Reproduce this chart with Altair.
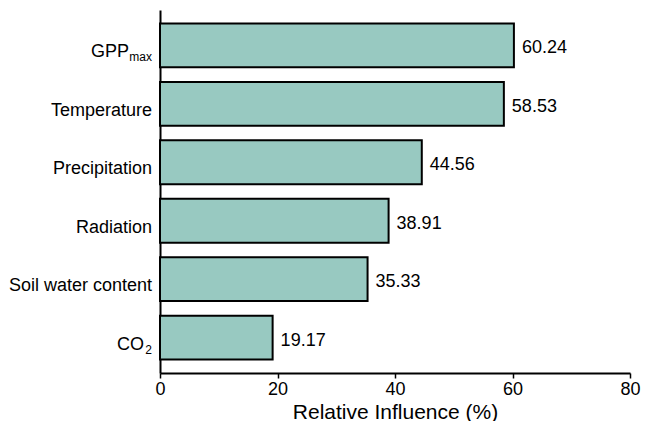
import altair as alt
import pandas as pd

categories = ["GPPmax", "Temperature", "Precipitation", "Radiation", "Soil water content", "CO2"]
main_labels = ["GPP", "Temperature", "Precipitation", "Radiation", "Soil water content", "CO"]
sub_labels = ["max", "", "", "", "", "2"]
values = [60.24, 58.53, 44.56, 38.91, 35.33, 19.17]
value_labels = ["60.24", "58.53", "44.56", "38.91", "35.33", "19.17"]
x_ticks = [0, 20, 40, 60, 80]

df = pd.DataFrame({
    "category": categories,
    "main": main_labels,
    "sub": sub_labels,
    "value": values,
    "vlabel": value_labels,
    "zero": [0] * len(categories),
})

FONT = "Liberation Sans"
FS = 18

x_enc = alt.X(
    "value:Q",
    scale=alt.Scale(domain=[0, 80], nice=False),
    axis=alt.Axis(
        values=x_ticks, format="d", title="Relative Influence (%)",
        domainColor="black", domainWidth=2, tickColor="black", tickWidth=1.5,
        tickSize=5, labelFontSize=FS, labelColor="black", labelPadding=2, labelFlush=False,
        labelFont=FONT, titleFont=FONT, titleFontSize=21, titleFontWeight="normal",
        titleColor="black", titlePadding=3, grid=False,
    ),
)
y_enc = alt.Y(
    "category:N",
    sort=categories,
    scale=alt.Scale(paddingInner=0.25, paddingOuter=0.23),
    axis=alt.Axis(labels=False, ticks=False, title=None, domainColor="black", domainWidth=2, grid=False),
)

base = alt.Chart(df)

bars = base.mark_bar(fill="#98c9c1", stroke="black", strokeWidth=2).encode(x=x_enc, y=y_enc)

vals = base.mark_text(align="left", baseline="alphabetic", dx=8, dy=8, fontSize=FS, font=FONT, color="black").encode(
    x="value:Q", y=alt.Y("category:N", sort=categories), text="vlabel:N"
)

plain = base.transform_filter(alt.datum.sub == "").mark_text(
    align="right", baseline="alphabetic", dx=-8, dy=12, fontSize=FS, font=FONT, color="black"
).encode(x="zero:Q", y=alt.Y("category:N", sort=categories), text="main:N")

gpp_main = base.transform_filter(alt.datum.category == "GPPmax").mark_text(
    align="right", baseline="alphabetic", dx=-31, dy=12, fontSize=FS, font=FONT, color="black"
).encode(x="zero:Q", y=alt.Y("category:N", sort=categories), text="main:N")

co_main = base.transform_filter(alt.datum.category == "CO2").mark_text(
    align="right", baseline="alphabetic", dx=-16, dy=12, fontSize=FS, font=FONT, color="black"
).encode(x="zero:Q", y=alt.Y("category:N", sort=categories), text="main:N")

subs = base.transform_filter(alt.datum.sub != "").mark_text(
    align="right", baseline="alphabetic", dx=-8, dy=16, fontSize=12, font=FONT, color="black"
).encode(x="zero:Q", y=alt.Y("category:N", sort=categories), text="sub:N")

chart = alt.layer(bars, vals, plain, gpp_main, co_main, subs).properties(
    width=470, height=363,
    autosize=alt.AutoSizeParams(type="none"),
    padding={"left": 152, "top": 2, "right": 11, "bottom": 48},
).configure(background="white").configure_view(stroke=None)

chart.save("out.html", embed_options={"renderer": "svg", "actions": False})
